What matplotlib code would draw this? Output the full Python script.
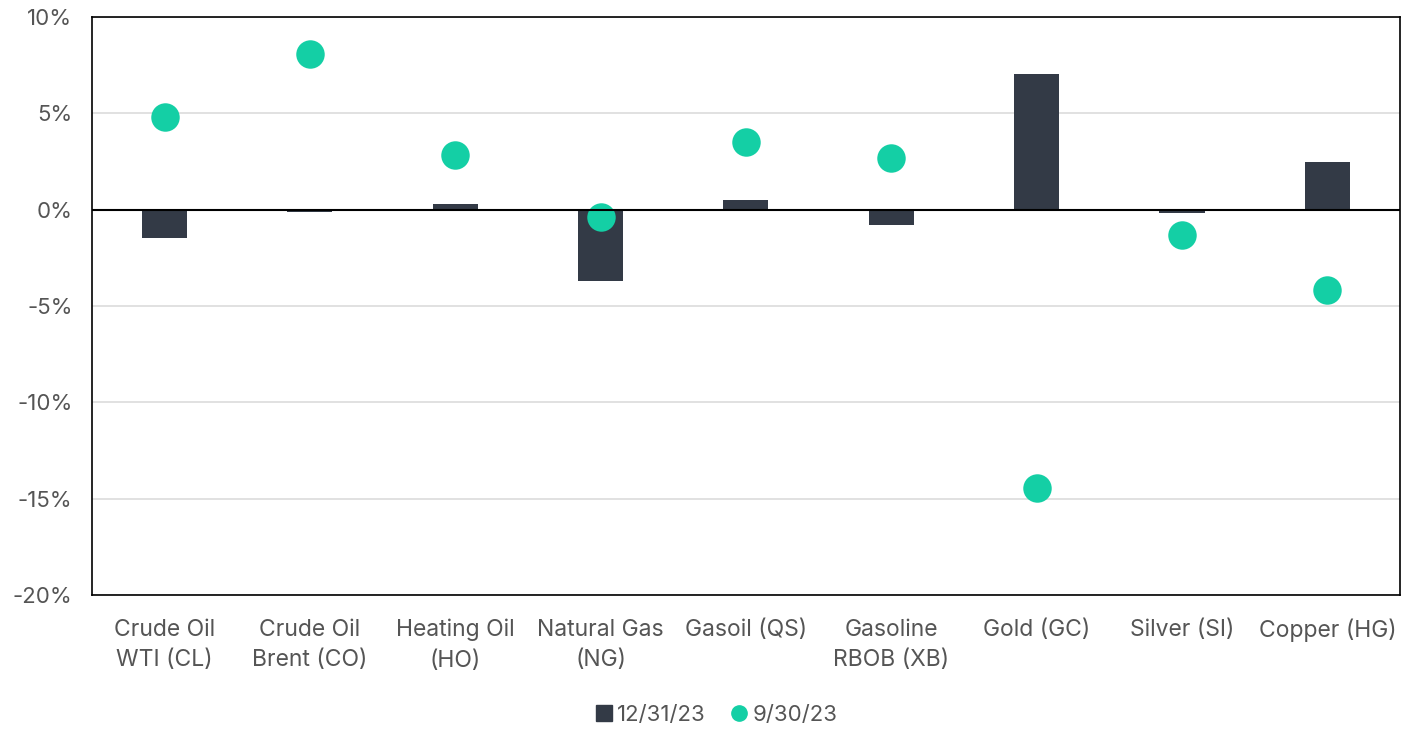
import matplotlib
matplotlib.use("Agg")
import matplotlib.pyplot as plt
from matplotlib.lines import Line2D
from matplotlib.ticker import FuncFormatter

categories = ["Crude Oil\nWTI (CL)", "Crude Oil\nBrent (CO)", "Heating Oil\n(HO)",
              "Natural Gas\n(NG)", "Gasoil (QS)", "Gasoline\nRBOB (XB)",
              "Gold (GC)", "Silver (SI)", "Copper (HG)"]
dec_23 = [-1.45, -0.1, 0.3, -3.7, 0.5, -0.8, 7.05, -0.15, 2.5]
sep_23 = [4.8, 8.1, 2.85, -0.4, 3.5, 2.7, -14.45, -1.3, -4.15]
yticks = [10, 5, 0, -5, -10, -15, -20]

BAR = "#333a46"
DOT = "#14cfa5"
TXT = "#555555"

plt.rcParams["font.family"] = ["Inter", "DejaVu Sans"]

fig = plt.figure(figsize=(14.19, 7.30), dpi=100)
ax = fig.add_axes([0.0648, 0.1849, 0.9218, 0.7918])

x = list(range(len(categories)))
ax.bar(x, dec_23, width=0.31, color=BAR, zorder=2)
ax.scatter(x, sep_23, s=420, color=DOT, zorder=3, linewidths=0)

ax.set_xlim(-0.5, len(categories) - 0.5)
ax.set_ylim(-20, 10)
ax.set_yticks(yticks)
ax.yaxis.set_major_formatter(FuncFormatter(lambda v, p: f"{v:.0f}%"))
ax.set_xticks(x)
ax.set_xticklabels(categories, linespacing=1.5)
ax.tick_params(axis="x", length=0, labelsize=16.5, colors=TXT, pad=17)
ax.tick_params(axis="y", length=0, labelsize=16, colors=TXT, pad=14)

ax.grid(axis="y", color="#dcdcdc", lw=1.2, zorder=0)
ax.set_axisbelow(True)
ax.axhline(0, color="black", lw=1.5, zorder=4)
for s in ax.spines.values():
    s.set_color("black")
    s.set_linewidth(1.2)

handles = [
    Line2D([], [], marker="s", ls="", color=BAR, markersize=11, label="12/31/23"),
    Line2D([], [], marker="o", ls="", color=DOT, markersize=11, label="9/30/23"),
]
leg = fig.legend(handles=handles, loc="center", bbox_to_anchor=(0.504, 0.021),
                 ncol=2, frameon=False, fontsize=16, handletextpad=0.1,
                 columnspacing=1.0, handlelength=1.0)
for t in leg.get_texts():
    t.set_color(TXT)

fig.savefig("out.png", dpi=100)
